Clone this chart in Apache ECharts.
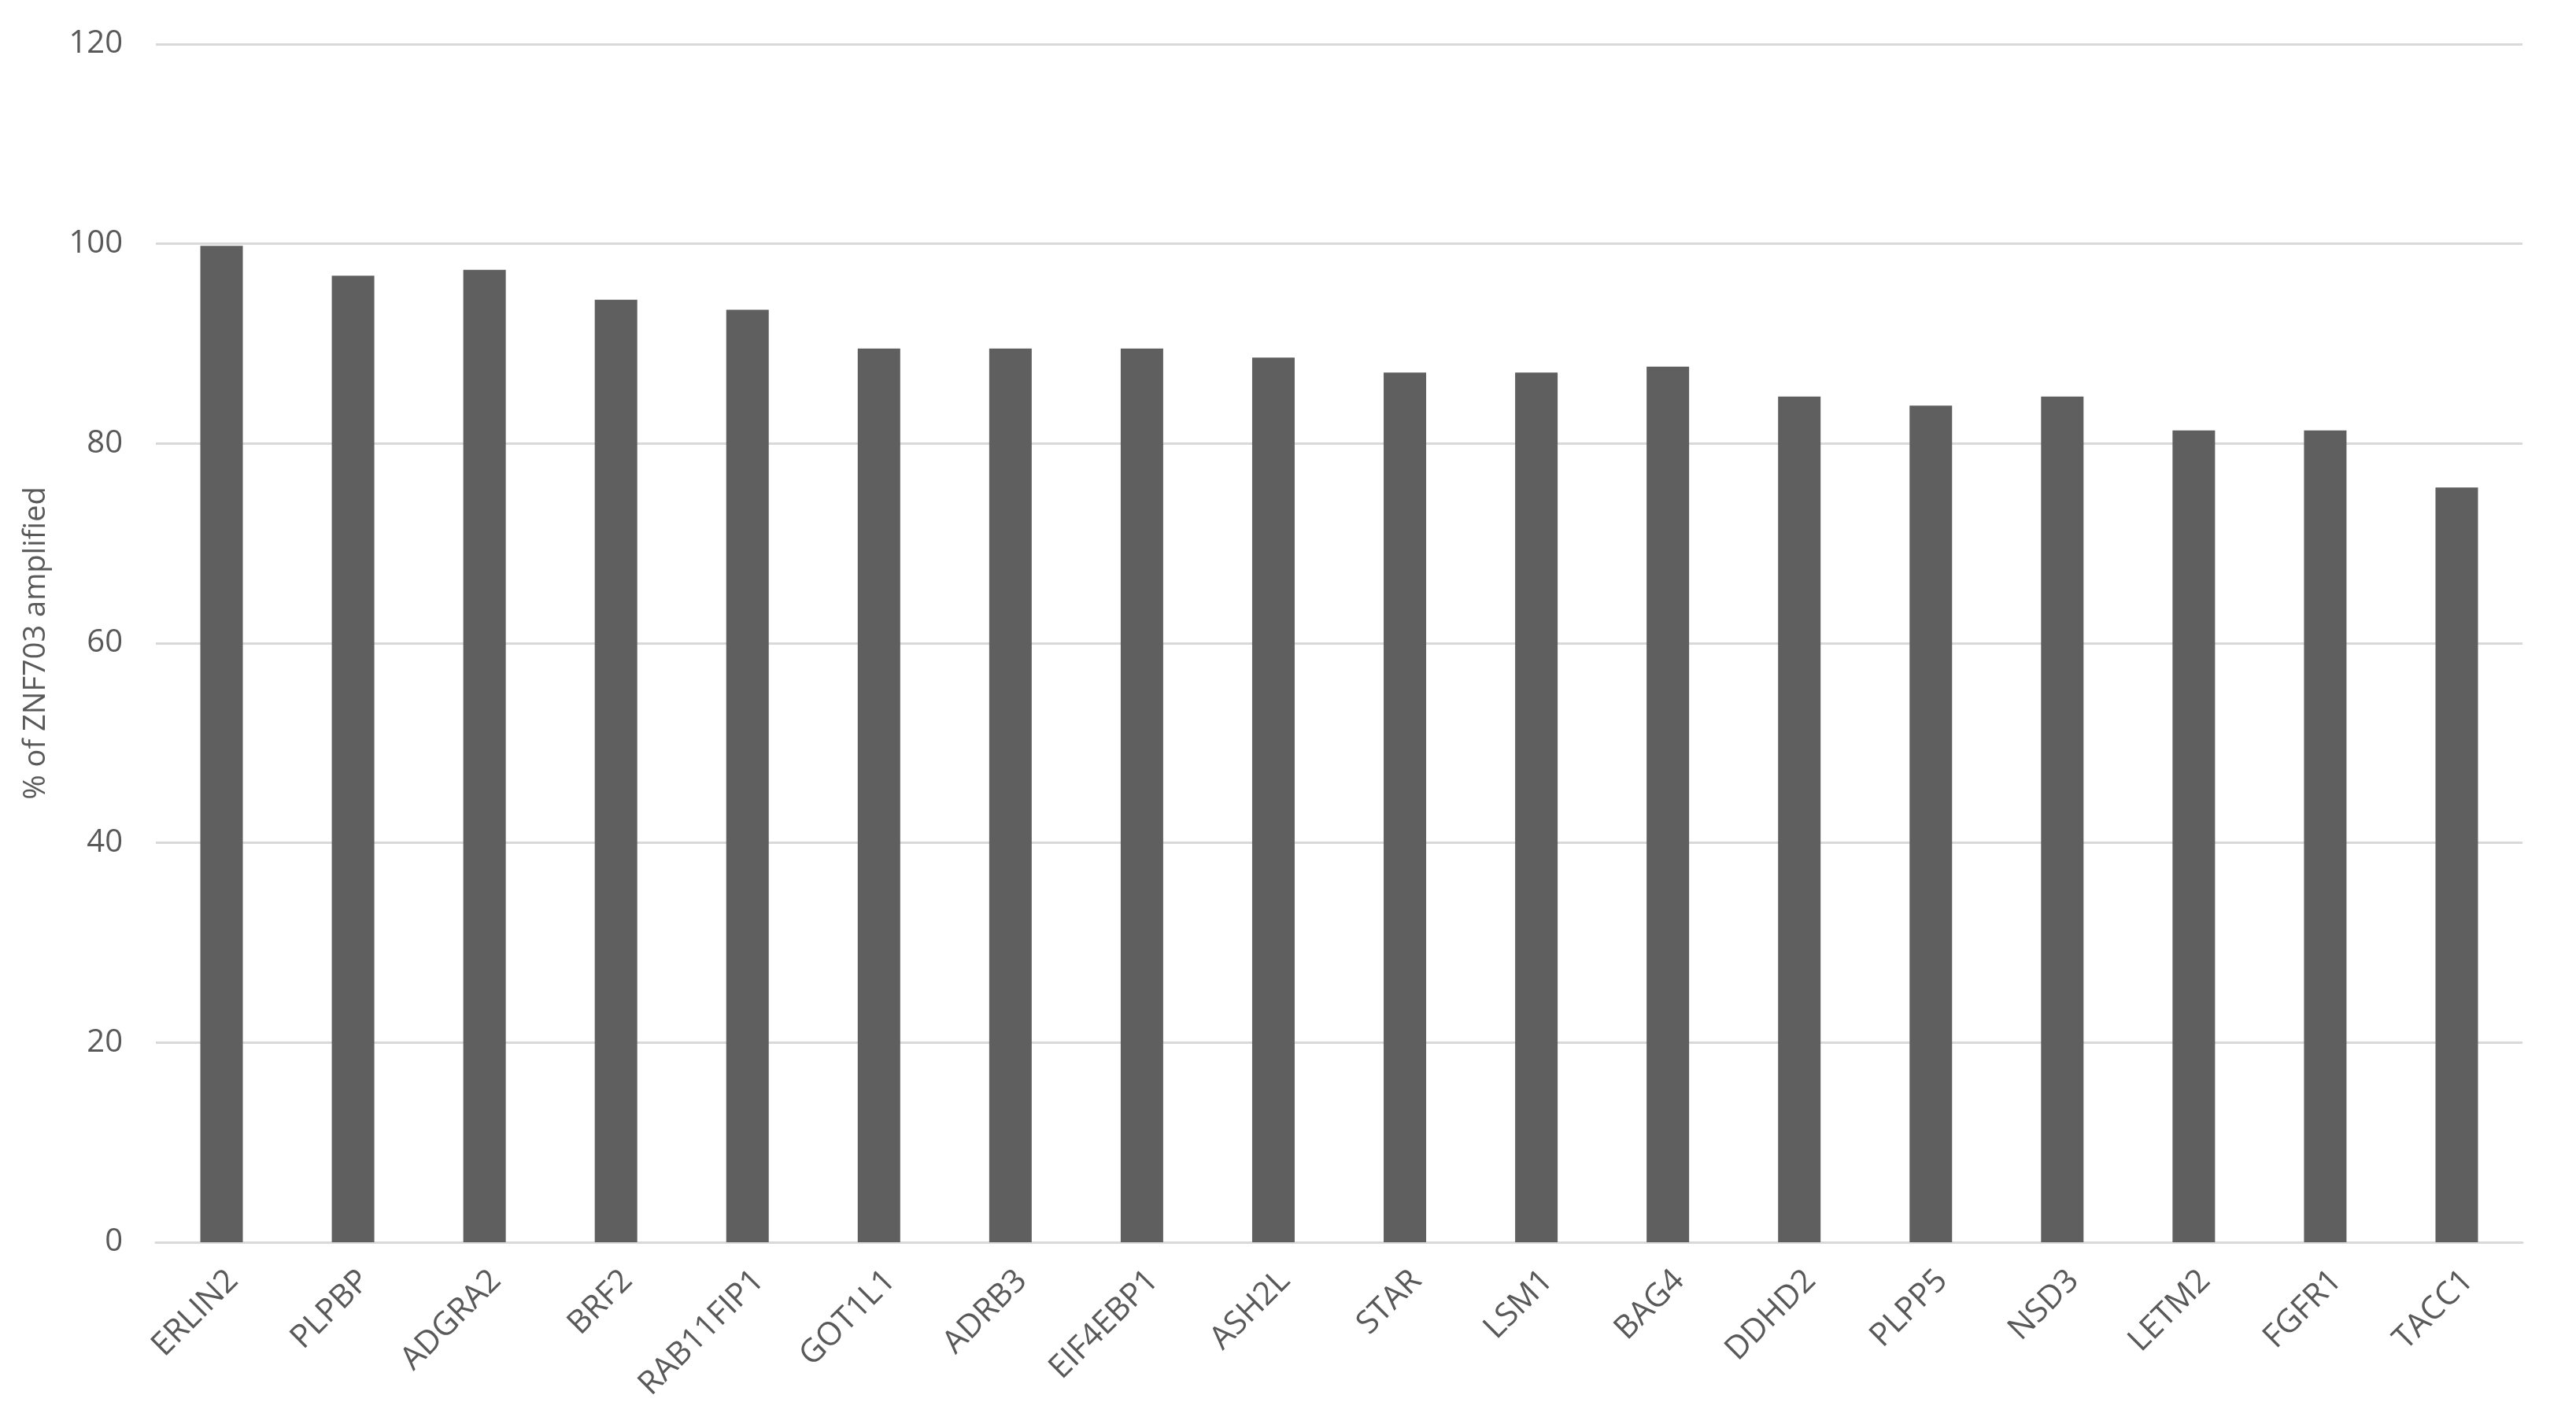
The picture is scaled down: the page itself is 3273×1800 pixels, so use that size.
<!DOCTYPE html>
<html>
<head>
<meta charset="utf-8">
<script src="https://cdn.jsdelivr.net/npm/echarts@6/dist/echarts.min.js"></script>
<style>
  html, body { margin: 0; padding: 0; background: #fff; }
  #c { width: 3273px; height: 1800px; }
</style>
</head>
<body>
<div id="c"></div>
<script>
const genes = ['ERLIN2', 'PLPBP', 'ADGRA2', 'BRF2', 'RAB11FIP1', 'GOT1L1', 'ADRB3', 'EIF4EBP1', 'ASH2L',
  'STAR', 'LSM1', 'BAG4', 'DDHD2', 'PLPP5', 'NSD3', 'LETM2', 'FGFR1', 'TACC1']
const amplified = [99.8, 96.8, 97.4, 94.4, 93.4, 89.5, 89.5, 89.5, 88.6,
  87.1, 87.1, 87.7, 84.7, 83.8, 84.7, 81.3, 81.3, 75.6]
const yTicks = { min: 0, max: 120, interval: 20 }

const font = '"Open Sans", "Liberation Sans", sans-serif'
const textColor = '#595959'
const gridColor = '#d9d9d9'

const chart = echarts.init(document.getElementById('c'))
chart.setOption({
  animation: false,
  backgroundColor: '#fff',
  grid: { left: 198, right: 68, top: 56, bottom: 222 },
  xAxis: {
    type: 'category',
    data: genes,
    axisLine: { lineStyle: { color: gridColor, width: 3 } },
    axisTick: { show: false },
    axisLabel: {
      rotate: 45,
      margin: 28,
      color: textColor,
      fontSize: 41,
      fontFamily: font,
      verticalAlign: 'top',
      interval: 0,
    },
  },
  yAxis: {
    type: 'value',
    min: yTicks.min,
    max: yTicks.max,
    interval: yTicks.interval,
    name: '% of ZNF703 amplified',
    nameLocation: 'middle',
    nameGap: 133,
    nameTextStyle: { color: textColor, fontSize: 38, fontFamily: font },
    axisLine: { show: false },
    axisTick: { show: false },
    axisLabel: { color: textColor, fontSize: 40, fontFamily: font, margin: 42 },
    splitLine: { lineStyle: { color: gridColor, width: 3 } },
  },
  series: [
    {
      type: 'bar',
      data: amplified,
      barWidth: 54,
      itemStyle: { color: '#5f5f5f' },
    },
  ],
})
</script>
</body>
</html>
